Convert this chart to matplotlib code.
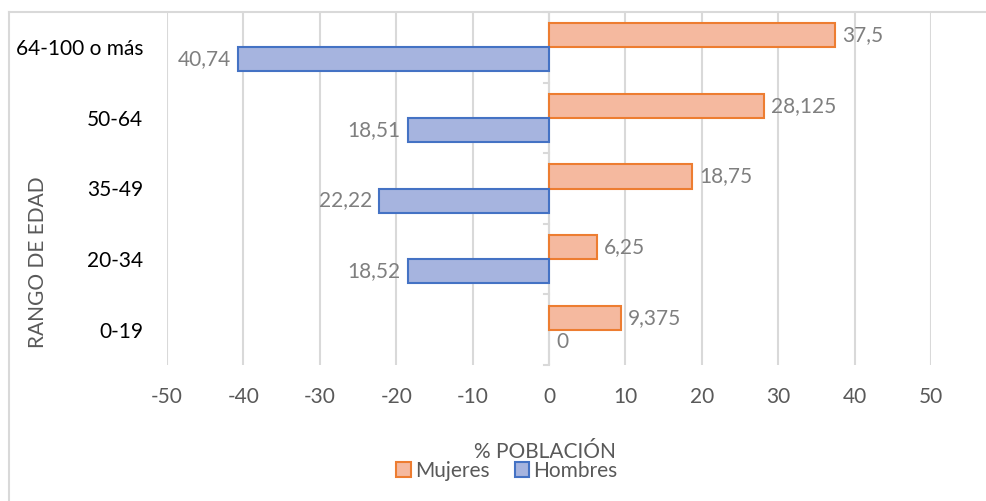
import numpy as np
import matplotlib.pyplot as plt
from matplotlib.patches import Patch
from matplotlib.lines import Line2D

plt.rcParams['font.family'] = ['Lato', 'DejaVu Sans']

# data (bottom to top)
categorias = ['0-19', '20-34', '35-49', '50-64', '64-100 o más']
mujeres = [9.375, 6.25, 18.75, 28.125, 37.5]
hombres = [0, 18.52, 22.22, 18.51, 40.74]
etiq_mujeres = ['9,375', '6,25', '18,75', '28,125', '37,5']
etiq_hombres = ['0', '18,52', '22,22', '18,51', '40,74']
xticks = [-50, -40, -30, -20, -10, 0, 10, 20, 30, 40, 50]

naranja_fill = '#F5B99F'
naranja_edge = '#ED7D31'
azul_fill = '#A6B4DF'
azul_edge = '#4472C4'
gris_txt = '#7F7F7F'
gris_grid = '#D9D9D9'
fs = 15

W, H = 987, 501
fig = plt.figure(figsize=(W / 100, H / 100), dpi=100)
ax = fig.add_axes([167 / W, 1 - 365 / H, (931 - 167) / W, (365 - 12) / H])

y = np.arange(len(categorias))
h = 0.34
ax.barh(y + h / 2, mujeres, height=h, color=naranja_fill, edgecolor=naranja_edge, linewidth=1.5, zorder=3)
# zero-length bars are not drawn
hb = [(yy, v) for yy, v in zip(y, hombres) if v > 0]
ax.barh([yy - h / 2 for yy, v in hb], [-v for yy, v in hb], height=h, color=azul_fill,
        edgecolor=azul_edge, linewidth=1.5, zorder=3)

for i in range(len(categorias)):
    ax.annotate(etiq_mujeres[i], (mujeres[i], y[i] + h / 2), xytext=(5, 0), textcoords='offset points',
                ha='left', va='center', fontsize=fs, color=gris_txt)
    if hombres[i] > 0:
        ax.annotate(etiq_hombres[i], (-hombres[i], y[i] - h / 2), xytext=(-5, 0), textcoords='offset points',
                    ha='right', va='center', fontsize=fs, color=gris_txt)
    else:
        ax.annotate(etiq_hombres[i], (0, y[i] - h / 2), xytext=(5, 0), textcoords='offset points',
                    ha='left', va='center', fontsize=fs, color=gris_txt)

ax.set_xlim(-50, 50)
ax.set_ylim(-0.5, len(categorias) - 0.5)
ax.set_xticks(xticks)
ax.set_xticklabels([str(t) for t in xticks])
ax.tick_params(axis='x', length=0, pad=16, labelsize=fs, labelcolor='#595959')
ax.grid(axis='x', color=gris_grid, linewidth=1.5, zorder=0)

# vertical axis at zero, labels on the left
ax.set_yticks(y)
ax.set_yticklabels(categorias)
ax.tick_params(axis='y', which='major', length=0, pad=17, labelsize=fs, labelcolor='black')
for s in ax.spines.values():
    s.set_visible(False)
ax.axvline(0, color=gris_grid, linewidth=1.5, zorder=2)
for b in np.arange(-0.5, len(categorias), 1.0):
    ax.plot([-0.6, 0], [b, b], color=gris_grid, linewidth=1.5, zorder=2, clip_on=False)

fig.text(38 / W, 1 - 262 / H, 'RANGO DE EDAD', rotation=90, ha='center', va='center',
         fontsize=fs, color='#595959')
fig.text(545 / W, 1 - 452 / H, '% POBLACIÓN', ha='center', va='center', fontsize=fs, color='#595959')

handles = [Patch(facecolor=naranja_fill, edgecolor=naranja_edge, linewidth=1.5, label='Mujeres'),
           Patch(facecolor=azul_fill, edgecolor=azul_edge, linewidth=1.5, label='Hombres')]
leg = fig.legend(handles=handles, loc='center', bbox_to_anchor=(507 / W, 1 - 471 / H), ncol=2, frameon=False,
                 fontsize=fs, handlelength=0.7, handleheight=0.7, handletextpad=0.2, columnspacing=1.2,
                 borderaxespad=0, borderpad=0)
for t in leg.get_texts():
    t.set_color('#595959')

# chart border
fig.add_artist(Line2D([9 / W, 1], [1 - 12 / H, 1 - 12 / H], color=gris_grid, linewidth=1.5))
fig.add_artist(Line2D([9 / W, 9 / W], [0, 1 - 12 / H], color=gris_grid, linewidth=1.5))

fig.savefig('out.png', dpi=100)
